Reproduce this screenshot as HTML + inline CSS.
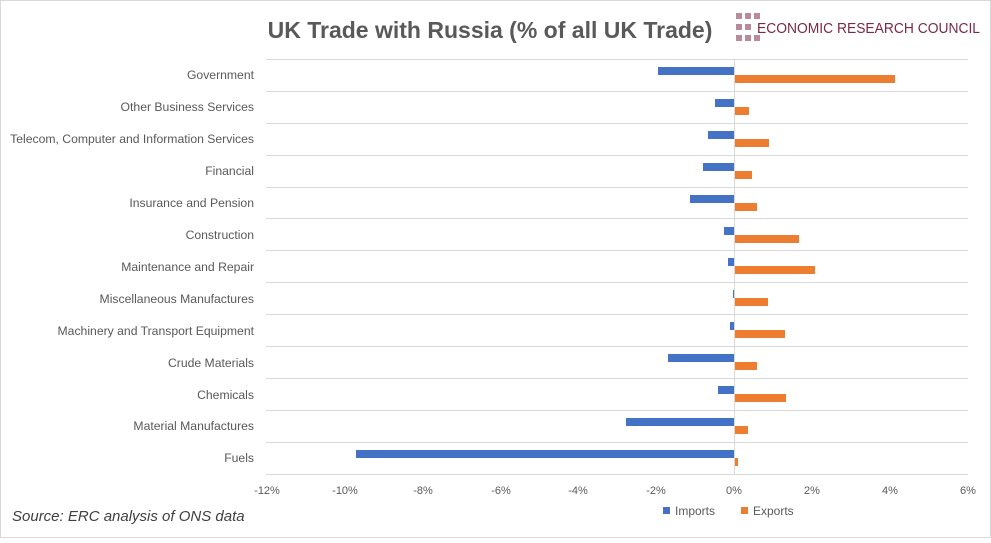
<!DOCTYPE html>
<html><head><meta charset="utf-8"><style>
body{margin:0;background:#fff}
svg text{font-family:"Liberation Sans",sans-serif}
</style></head><body>
<svg width="991" height="538" xmlns="http://www.w3.org/2000/svg">
<rect x="0.5" y="0.5" width="990" height="537" fill="#fff" stroke="#d9d9d9"/>
<text x="490" y="38" text-anchor="middle" font-size="23" font-weight="bold" fill="#595959">UK Trade with Russia (% of all UK Trade)</text>
<g fill="#b88a9b">
<rect x="736" y="13" width="6" height="6"/><rect x="745" y="13" width="6" height="6"/><rect x="754" y="13" width="6" height="6"/>
<rect x="736" y="24" width="6" height="6"/><rect x="745" y="24" width="6" height="6"/>
<rect x="736" y="35" width="6" height="6"/><rect x="745" y="35" width="6" height="6"/><rect x="754" y="35" width="6" height="6"/>
</g>
<text x="757" y="33" font-size="14.5" fill="#7b2a45" textLength="223" lengthAdjust="spacingAndGlyphs">ECONOMIC RESEARCH COUNCIL</text>
<g stroke="#d9d9d9" stroke-width="1">
<line x1="266" x2="968" y1="59.5" y2="59.5"/><line x1="266" x2="968" y1="91.5" y2="91.5"/><line x1="266" x2="968" y1="123.5" y2="123.5"/><line x1="266" x2="968" y1="155.5" y2="155.5"/><line x1="266" x2="968" y1="187.5" y2="187.5"/><line x1="266" x2="968" y1="218.5" y2="218.5"/><line x1="266" x2="968" y1="250.5" y2="250.5"/><line x1="266" x2="968" y1="282.5" y2="282.5"/><line x1="266" x2="968" y1="314.5" y2="314.5"/><line x1="266" x2="968" y1="346.5" y2="346.5"/><line x1="266" x2="968" y1="378.5" y2="378.5"/><line x1="266" x2="968" y1="410.5" y2="410.5"/><line x1="266" x2="968" y1="442.5" y2="442.5"/><line x1="266" x2="968" y1="474.5" y2="474.5"/>
<line x1="734.5" x2="734.5" y1="59" y2="474"/>
</g>
<g font-size="12.2" fill="#595959" text-anchor="end">
<text x="254" y="79">Government</text>
<text x="254" y="111">Other Business Services</text>
<text x="254" y="143">Telecom, Computer and Information Services</text>
<text x="254" y="175">Financial</text>
<text x="254" y="207">Insurance and Pension</text>
<text x="254" y="239">Construction</text>
<text x="254" y="271">Maintenance and Repair</text>
<text x="254" y="303">Miscellaneous Manufactures</text>
<text x="254" y="335">Machinery and Transport Equipment</text>
<text x="254" y="367">Crude Materials</text>
<text x="254" y="399">Chemicals</text>
<text x="254" y="430">Material Manufactures</text>
<text x="254" y="462">Fuels</text>
</g>
<g fill="#4472c4">
<rect x="658" y="67" width="76" height="8"/>
<rect x="715" y="99" width="19" height="8"/>
<rect x="708" y="131" width="26" height="8"/>
<rect x="703" y="163" width="31" height="8"/>
<rect x="690" y="195" width="44" height="8"/>
<rect x="724" y="227" width="10" height="8"/>
<rect x="728" y="258" width="6" height="8"/>
<rect x="733" y="290" width="1" height="8"/>
<rect x="730" y="322" width="4" height="8"/>
<rect x="668" y="354" width="66" height="8"/>
<rect x="718" y="386" width="16" height="8"/>
<rect x="626" y="418" width="108" height="8"/>
<rect x="356" y="450" width="378" height="8"/>
</g>
<g fill="#ed7d31">
<rect x="735" y="75" width="160" height="8"/>
<rect x="735" y="107" width="14" height="8"/>
<rect x="735" y="139" width="34" height="8"/>
<rect x="735" y="171" width="17" height="8"/>
<rect x="735" y="203" width="22" height="8"/>
<rect x="735" y="235" width="64" height="8"/>
<rect x="735" y="266" width="80" height="8"/>
<rect x="735" y="298" width="33" height="8"/>
<rect x="735" y="330" width="50" height="8"/>
<rect x="735" y="362" width="22" height="8"/>
<rect x="735" y="394" width="51" height="8"/>
<rect x="735" y="426" width="13" height="8"/>
<rect x="735" y="458" width="3" height="8"/>
</g>
<g font-size="11" fill="#595959" text-anchor="middle">
<text x="267" y="494">-12%</text><text x="345" y="494">-10%</text><text x="423" y="494">-8%</text><text x="501" y="494">-6%</text><text x="578" y="494">-4%</text><text x="656" y="494">-2%</text><text x="734" y="494">0%</text><text x="812" y="494">2%</text><text x="890" y="494">4%</text><text x="968" y="494">6%</text>
</g>
<rect x="663" y="507" width="7" height="7" fill="#4472c4"/>
<text x="675" y="515" font-size="12" fill="#595959">Imports</text>
<rect x="741" y="507" width="7" height="7" fill="#ed7d31"/>
<text x="753" y="515" font-size="12" fill="#595959">Exports</text>
<text x="12" y="521" font-size="15" font-style="italic" fill="#404040">Source: ERC analysis of ONS data</text>
</svg>
</body></html>
